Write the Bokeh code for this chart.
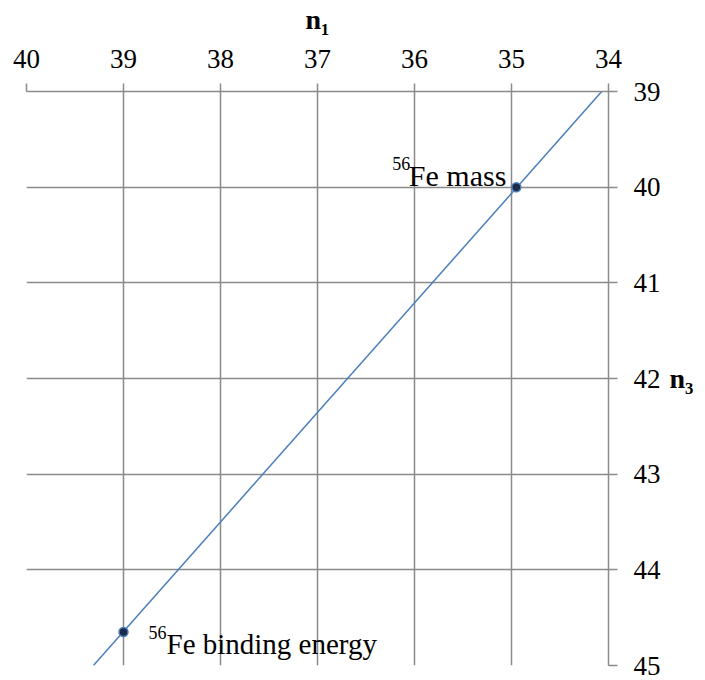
from bokeh.plotting import figure
from bokeh.models import Range1d, FixedTicker, LinearAxis, Label
from bokeh.embed import file_html
from bokeh.resources import INLINE

# ---- data ----
n1_ticks = [40, 39, 38, 37, 36, 35, 34]
n3_ticks = [39, 40, 41, 42, 43, 44, 45]

line_n1 = [39.31, 34.07]
line_n3 = [45.0, 39.0]

pt_n1 = [34.95, 39.0]
pt_n3 = [40.0, 44.65]
pt_names = ["Fe mass", "Fe binding energy"]
pt_sup = ["56", "56"]

FONT = "Liberation Serif"
GRID = "#8a8a8a"
BLUE = "#4a7ebb"

p = figure(frame_width=582, frame_height=574,
           x_range=Range1d(40, 34), y_range=Range1d(45, 39),
           x_axis_location=None, y_axis_location=None,
           output_backend="svg", toolbar_location=None,
           min_border_left=26, min_border_top=89, min_border_bottom=17,
           min_border_right=5)
p.outline_line_color = None
p.background_fill_color = "white"
p.border_fill_color = "white"

xt = FixedTicker(ticks=n1_ticks, minor_ticks=[])
yt = FixedTicker(ticks=n3_ticks, minor_ticks=[])

top = LinearAxis(ticker=xt, axis_label="n\u2081")
right = LinearAxis(ticker=yt, axis_label="n\u2083")
for ax in (top, right):
    ax.axis_line_color = GRID
    ax.axis_line_width = 1.5
    ax.major_tick_line_color = GRID
    ax.major_tick_line_width = 1.5
    ax.major_tick_in = 0
    ax.minor_tick_line_color = None
    ax.major_label_text_font = FONT
    ax.major_label_text_font_size = "27px"
    ax.major_label_text_color = "black"
    ax.axis_label_text_font = FONT
    ax.axis_label_text_font_style = "bold"
    ax.axis_label_text_font_size = "28px"
    ax.axis_label_text_color = "black"
top.major_tick_out = 8
top.major_label_standoff = 16
top.axis_label_standoff = 12
right.major_tick_out = 9
right.major_label_standoff = 16
right.axis_label_standoff = 6
right.axis_label_orientation = "horizontal"
p.add_layout(top, "above")
p.add_layout(right, "right")

p.xgrid.ticker = xt
p.ygrid.ticker = yt
p.grid.grid_line_color = GRID
p.grid.grid_line_width = 1.5

p.line(line_n1, line_n3, line_color=BLUE, line_width=1.5)
p.scatter(pt_n1, pt_n3, size=9, fill_color="#1c2b4a", line_color=BLUE, line_width=1.5)

# annotations: point 0 (right-aligned, left of point), point 1 (left-aligned, right of point)
p.add_layout(Label(x=pt_n1[0], y=pt_n3[0], text=pt_names[0], x_offset=-10, y_offset=12,
                   text_align="right", text_baseline="alphabetic",
                   text_font=FONT, text_font_size="30px", text_color="black"))
p.add_layout(Label(x=pt_n1[0], y=pt_n3[0], text=pt_sup[0], x_offset=-106, y_offset=24,
                   text_align="right", text_baseline="alphabetic",
                   text_font=FONT, text_font_size="18px", text_color="black"))
p.add_layout(Label(x=pt_n1[1], y=pt_n3[1], text=pt_names[1], x_offset=43, y_offset=-12,
                   text_align="left", text_baseline="alphabetic",
                   text_font=FONT, text_font_size="29px", text_color="black"))
p.add_layout(Label(x=pt_n1[1], y=pt_n3[1], text=pt_sup[1], x_offset=25, y_offset=0,
                   text_align="left", text_baseline="alphabetic",
                   text_font=FONT, text_font_size="18px", text_color="black"))

open("out.html", "w").write(file_html(p, INLINE))
